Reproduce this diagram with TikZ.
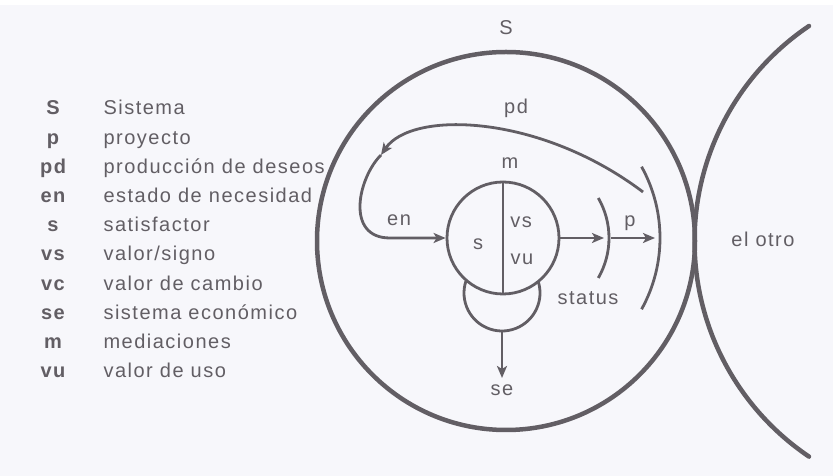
\documentclass[tikz,border=0pt]{standalone}
\usepackage{fontspec}
\setmainfont{Liberation Sans}[LetterSpace=7.5]
\usetikzlibrary{arrows.meta}

\definecolor{ink}{RGB}{98,94,100}
\definecolor{paper}{RGB}{247,247,251}

\tikzset{
  ring/.style={draw=ink, line width=4.5pt},
  stroke/.style={draw=ink, line width=2.8pt},
  arr/.style={stroke, -{Stealth[length=12pt, width=10pt, inset=3pt]}},
}

\begin{document}
\begin{tikzpicture}[x=1pt, y=1pt,
  every node/.style={font=\fontsize{20}{24}\selectfont, text=ink}]

\fill[white] (0,0) rectangle (833,476);
\fill[paper] (0,0) rectangle (833,471);

\node[anchor=base] at (53,361) (kS) {\bfseries S};
\node[anchor=base west] at (100,361) (tS) {Sistema};
\node[anchor=base] at (53,331.8) (kp) {\bfseries p};
\node[anchor=base west] at (100,331.8) (tp) {proyecto};
\node[anchor=base] at (53,302.6) (kpd) {\bfseries pd};
\node[anchor=base west] at (100,302.6) (tpd) {producción de deseos};
\node[anchor=base] at (53,273.4) (ken) {\bfseries en};
\node[anchor=base west] at (100,273.4) (ten) {estado de necesidad};
\node[anchor=base] at (53,244.2) (ks) {\bfseries s};
\node[anchor=base west] at (100,244.2) (ts) {satisfactor};
\node[anchor=base] at (53,215) (kvs) {\bfseries vs};
\node[anchor=base west] at (100,215) (tvs) {valor/signo};
\node[anchor=base] at (53,185.8) (kvc) {\bfseries vc};
\node[anchor=base west] at (100,185.8) (tvc) {valor de cambio};
\node[anchor=base] at (53,156.6) (kse) {\bfseries se};
\node[anchor=base west] at (100,156.6) (tse) {sistema económico};
\node[anchor=base] at (53,127.4) (km) {\bfseries m};
\node[anchor=base west] at (100,127.4) (tm) {mediaciones};
\node[anchor=base] at (53,98.2) (kvu) {\bfseries vu};
\node[anchor=base west] at (100,98.2) (tvu) {valor de uso};

\draw[ring] (506,235) circle[radius=189];
\draw[ring, line cap=round] (809,450) arc[start angle=124, end angle=236, radius=259.7];

\node at (506,448) (lS) {S};
\node at (763,237) (otro) {el otro};

\node[draw=ink, circle, minimum size=112pt, inner sep=0pt, line width=2.8pt] at (503,238) (sat) {};
\draw[stroke] (sat.north) -- (sat.south);
\coordinate (vc) at (502,183);
\draw[stroke] (vc) ++(162:38) arc[start angle=162, end angle=378, radius=38];
\coordinate (vcb) at (502,145);

\node at (510,313) (m) {m};
\node at (478,232) (s) {s};
\node at (521,254) (vs) {vs};
\node at (522,217) (vu) {vu};
\node at (502,86) (se) {se};

\draw[stroke] (529,238) ++(-30:80) arc[start angle=-30, end angle=30, radius=80];
\draw[stroke] (513,238) ++(-29:147) arc[start angle=-29, end angle=29, radius=147];
\coordinate (stat) at (609,238);
\coordinate (prj) at (660,238);

\node at (588,178) (status) {status};
\node at (630,253) (p) {p};
\node at (516,368) (pd) {pd};
\node at (399,256) (en) {en};

\draw[arr, shorten >=3pt] (vcb) -- (se);
\draw[arr, shorten >=5pt] (sat) -- (stat);
\draw[arr, shorten <=2pt, shorten >=5pt] (stat) -- (prj);

\coordinate (pdfrom) at (643,284);
\coordinate (turn) at (381,321);
\draw[arr] (pdfrom) .. controls (540,362) and (412,366) .. (turn);
\draw[arr] (turn) .. controls (358,298) and (345,238) .. (390,238) -- (sat);

\end{tikzpicture}
\end{document}
